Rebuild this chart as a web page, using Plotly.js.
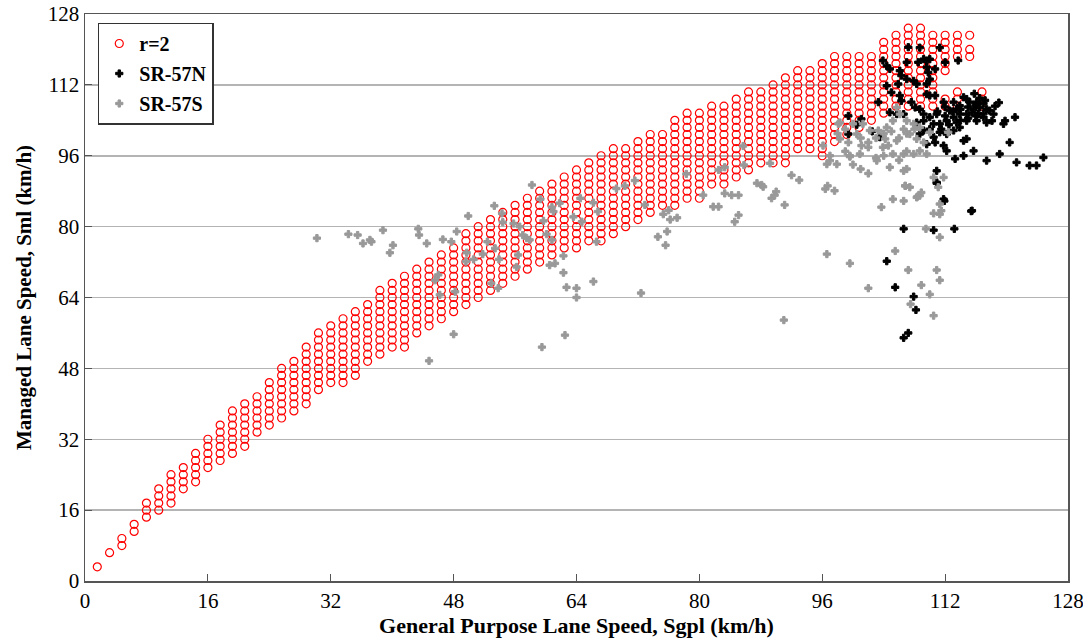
<!DOCTYPE html>
<html>
<head>
<meta charset="utf-8">
<script src="https://cdn.plot.ly/plotly-3.0.1.min.js"></script>
<style>html,body{margin:0;padding:0;background:#fff}#chart{width:1083px;height:641px}</style>
</head>
<body>
<div id="chart"></div>
<script>
// ---- data (km/h) ----
// r=2 feasible region: grid columns (grid index k, step 1.6 km/h) with lower/upper grid index of circles
const gridStep = 1.6;
const redColK  = [1,2,3,4,5,6,7,8,9,10,11,12,13,14,15,16,17,18,19,20,21,22,23,24,25,26,27,28,29,30,31,32,33,34,35,36,37,38,39,40,41,42,43,44,45,46,47,48,49,50,51,52,53,54,55,56,57,58,59,60,61,62,63,64,65,66,67,68,69,70,70,71,71,72,72,73];
const redColLo = [2,4,5,7,9,10,11,13,14,16,17,18,19,21,22,23,24,25,27,28,28,29,31,32,33,33,35,36,37,38,39,40,41,42,43,44,45,46,47,47,48,48,49,50,51,52,53,53,54,54,56,56,57,58,59,59,59,61,61,60,62,63,64,65,66,67,67,67,67,72,67,74,67,77,74,67];
const redColHi = [2,4,6,8,11,13,15,16,18,20,22,24,25,26,28,30,31,33,35,36,37,38,39,41,42,43,44,45,46,47,49,50,51,52,53,54,55,56,57,58,59,60,61,61,62,63,63,65,66,66,67,67,68,69,69,70,71,72,72,73,74,74,74,74,76,77,78,78,77,77,68,77,69,77,75,69];

const sr57nX = [107.2,108.7,111.3,103.9,104.4,104.8,106.1,107.0,108.5,109.2,109.6,110.0,109.6,109.8,110.7,112.0,113.7,106.3,107.0,107.9,105.9,108.3,109.6,110.0,104.4,105.0,106.1,103.3,106.3,107.6,108.1,109.6,110.0,110.7,104.8,105.7,106.6,108.7,109.2,
111.8,113.1,113.9,114.4,114.8,115.2,115.7,116.1,116.5,117.4,117.8,114.8,113.9,113.1,112.2,111.3,110.5,109.2,108.3,110.0,110.9,112.6,113.5,115.5,116.3,117.0,117.4,118.3,118.1,116.1,114.8,113.9,113.1,112.2,111.3,110.5,109.2,108.7,109.6,110.7,111.8,112.2,114.4,114.8,115.7,117.4,119.1,120.4,119.6,121.1,119.8,121.3,123.0,123.9,124.8,113.3,114.4,110.9,110.9,111.8,115.5,99.4,99.4,101.1,
112,113,114,115,116,117,114,115,116,117,112,111,112.5,113.5,111.5,110,100.5,102.5,103.5,116.5,115.8,117.2,118.5,119,
110.9,111.9,115.4,106.6,110.5,113.2,104.4,105.5,107.9,108.2,107.2,106.6];
const sr57nY = [120.5,120.4,120.4,117.5,116.3,115.6,115.2,117.1,117.1,117.8,117.5,117.8,116.0,114.8,115.6,117.1,117.5,114.1,113.3,112.9,112.2,112.2,112.2,113.3,111.8,110.3,109.6,108.1,108.4,108.1,106.9,109.9,109.6,109.6,105.8,105.4,105.4,106.5,105.4,
108.1,108.1,107.3,109.2,108.8,108.1,106.5,108.1,106.9,106.5,106.2,105.4,105.4,104.7,103.9,103.2,103.2,103.9,103.5,104.7,105.4,106.2,106.5,105.8,105.4,104.7,103.5,105.4,103.9,103.9,103.9,102.4,101.7,100.9,101.3,100.2,101.7,100.9,98.6,99.0,98.3,97.1,99.4,99.8,97.1,94.9,96.4,99.0,103.2,104.7,103.9,94.5,93.8,93.8,95.6,95.3,96.0,92.6,90.0,86.2,83.6,100.9,105.0,104.3,
107,106,106.5,107,107.5,107.8,104,104.5,105,105.5,105,106,103,103.5,102,102,103,101.5,100.2,109,110,108.5,107.2,108,
89.8,85.8,83.5,79.5,79.2,79.5,72.2,66.3,64.2,61.2,56.0,54.9];

const sr57sX = [30.2,34.3,35.5,36.2,37.1,37.3,38.8,39.7,40.1,43.4,43.5,44.5,46.6,47.7,48.4,49.9,53.3,54.3,54.4,55.8,56.6,57.0,57.5,57.9,58.2,59.3,59.7,60.1,60.8,61.0,61.8,60.5,61.2,62.3,62.3,62.7,64.0,64.0,66.2,66.2,64.5,63.6,64.7,66.6,49.7,49.6,50.6,51.8,52.4,53.4,53.9,52.9,53.8,56.4,56.2,45.6,46.0,46.2,48.2,48.0,44.8,59.5,62.5,60.8,
66.8,69.2,70.3,71.6,72.9,75.3,76.0,76.2,77.1,74.6,75.8,75.6,78.3,80.5,81.8,82.5,82.5,83.3,83.3,84.2,85.1,85.1,84.6,85.7,85.8,87.5,88.1,88.3,89.2,89.4,90.0,89.8,91.1,92.0,93.0,
91.0,72.4,96.6,96.7,
106.8,108.9,108.4,106.6,111.3,110.5,111.3,109.5,111.3,105.5,99.6,107.2,110.9,111.3,102.0,108.9,110.0,107.5,110.5,
96.6,97.9,96.4,97.6,99.6,101.1,102.0,103.1,103.9,104.8,107.0,106.6,104.6,105.7,104.2,105.2,106.6,107.9,108.7,109.6,102.2,103.3,104.4,105.2,106.1,105.7,107.0,107.9,108.7,110.0,98.3,100.0,101.3,100.5,99.4,100.9,110.5,111.1,111.8,108.7,108.3,106.8,107.4,105.2,103.7,111.5,112.4,106.6,107.4,108.3,109.2,
96.1,97.0,98.1,98.3,99.6,
98,99,101,102,103,104,105,106,107,108,104,103,106,107,99,97,100,101,102];
const sr57sY = [77.4,78.3,78.1,76.2,77.0,76.6,79.2,74.1,75.8,79.5,78.1,76.2,77.1,76.6,78.9,82.4,84.7,83.0,81.0,80.7,80.0,78.1,77.4,77.0,89.4,86.2,81.3,78.3,77.0,83.4,85.3,71.3,71.7,73.4,69.6,66.3,66.1,64.0,67.6,85.4,86.4,82.2,81.1,76.6,74.1,72.1,72.6,73.8,76.6,75.1,72.6,67.2,66.1,73.6,70.9,67.9,69.1,64.6,65.3,55.7,49.7,52.8,55.5,84.4,
83.4,88.6,89.2,90.4,84.9,82.8,83.7,81.6,82.0,77.7,78.9,75.8,91.9,87.1,84.5,84.5,92.8,93.4,87.5,87.1,87.1,82.6,81.1,98.2,93.9,89.8,89.4,89.0,94.3,86.4,87.9,87.1,84.9,91.6,90.5,
58.9,65.0,73.8,89.2,
89.2,87.7,86.8,85.8,85.1,83.0,82.8,79.5,77.6,74.5,71.7,70.2,70.2,67.9,66.1,66.8,64.7,62.5,59.9,
94.1,94.1,88.5,88.1,95.8,98.3,97.9,94.9,97.9,93.4,93.0,92.6,98.3,99.4,99.8,96.4,96.4,96.4,97.1,96.4,101.7,101.7,102.4,103.9,105.4,106.9,103.9,103.2,102.4,101.3,103.5,103.2,103.2,100.9,99.0,96.4,91.1,88.9,91.1,87.0,86.6,89.2,88.9,86.2,84.4,83.6,101.3,102.0,100.9,99.8,99.0,
98.3,94.9,103.2,99.8,96.0,
101,102,100,99,100,101,101.5,100,101,102,96,95.5,95,97,97,96,94,93,92];

const tickVals = [0,16,32,48,64,80,96,112,128];
const seriesNames = ['r=2','SR-57N','SR-57S'];
const xTitle = 'General Purpose Lane Speed, Sgpl (km/h)';
const yTitle = 'Managed Lane Speed, Sml (km/h)';

// expand region columns into circle positions
const redX = [], redY = [];
for (let i = 0; i < redColK.length; i++) {
  for (let j = redColLo[i]; j <= redColHi[i]; j++) {
    redX.push(redColK[i] * gridStep);
    redY.push(j * gridStep);
  }
}

const FONT = 'Liberation Serif, Times New Roman, serif';
const traces = [
  {x: redX, y: redY, type: 'scatter', mode: 'markers', name: '<b>' + seriesNames[0] + '</b>', legendgroup: 'a',
   marker: {symbol: 'circle-open', size: 8, color: '#ff0000', line: {width: 1.2, color: '#ff0000'}}},
  {x: sr57nX, y: sr57nY, type: 'scatter', mode: 'markers', name: '<b>' + seriesNames[1] + '</b>', legendgroup: 'b',
   marker: {symbol: 'cross', size: 6, color: '#000000', line: {width: 1, color: '#000000'}}},
  {x: sr57sX, y: sr57sY, type: 'scatter', mode: 'markers', name: '<b>' + seriesNames[2] + '</b>', legendgroup: 'c',
   marker: {symbol: 'cross', size: 6, color: '#999999', line: {width: 1, color: '#999999'}}}
];

const layout = {
  width: 1083, height: 641,
  margin: {l: 85, r: 15, t: 14, b: 60},
  paper_bgcolor: '#ffffff', plot_bgcolor: '#ffffff',
  font: {family: FONT, color: '#000'},
  showlegend: true,
  legend: {x: 0.013, y: 0.985, xanchor: 'left', yanchor: 'top', bgcolor: '#ffffff',
           bordercolor: '#333', borderwidth: 1.5, font: {family: FONT, size: 20, color: '#000'},
           traceorder: 'grouped', tracegroupgap: 1, itemwidth: 30},
  xaxis: {range: [0, 128], tickvals: tickVals, ticktext: tickVals.map(String), ticklabeloverflow: 'allow',
          showgrid: false, zeroline: false, showline: true, mirror: true, linecolor: '#555', linewidth: 1.5,
          ticks: 'inside', ticklen: 7, tickcolor: '#555', tickfont: {family: FONT, size: 21, color: '#000'},
          title: {text: '<b>' + xTitle + '</b>', font: {family: FONT, size: 22, color: '#000'}, standoff: 4}},
  yaxis: {range: [0, 128], tickvals: tickVals, ticktext: tickVals.map(String),
          showgrid: true, gridcolor: '#b4b4b4', gridwidth: 1.5, zeroline: false, showline: true, mirror: true,
          linecolor: '#555', linewidth: 1.5,
          ticks: 'inside', ticklen: 7, tickcolor: '#555', tickfont: {family: FONT, size: 21, color: '#000'},
          title: {text: '<b>' + yTitle + '</b>', font: {family: FONT, size: 21, color: '#000'}, standoff: 10}}
};

Plotly.newPlot('chart', traces, layout, {displayModeBar: false, staticPlot: true});
</script>
</body>
</html>
